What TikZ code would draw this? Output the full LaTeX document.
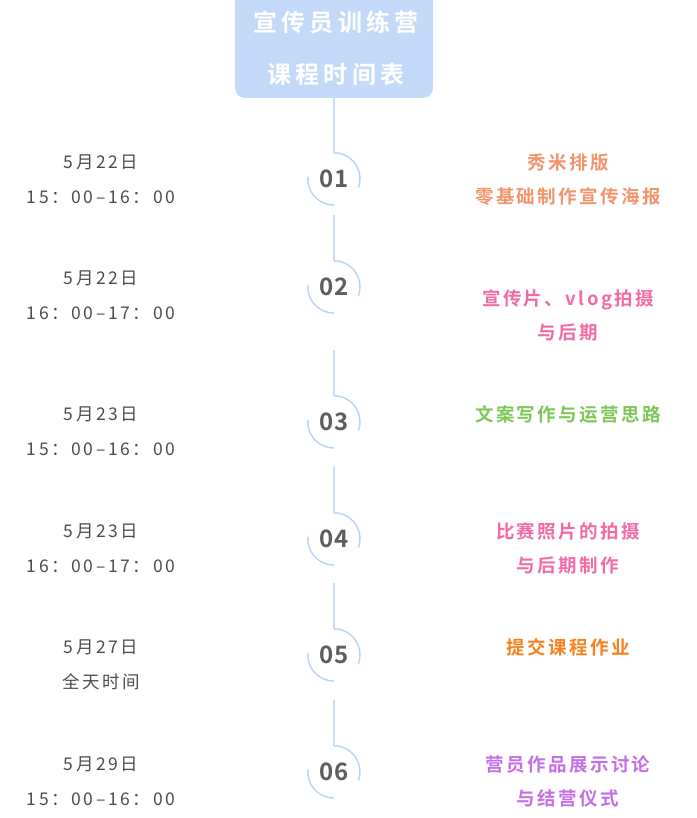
\documentclass[tikz,border=0pt]{standalone}
\usepackage{fontspec}
\setmainfont{Noto Sans CJK SC}[BoldFont={Noto Sans CJK SC Bold}]
\newfontfamily\datefont[LetterSpace=15]{Noto Sans CJK SC}
\newfontfamily\topicfont[LetterSpace=13,BoldFont={Noto Sans CJK SC Bold}]{Noto Sans CJK SC}
\newfontfamily\titlefont[LetterSpace=17,BoldFont={Noto Sans CJK SC Bold}]{Noto Sans CJK SC}
\definecolor{campbox}{HTML}{C3DAF9}
\definecolor{stemline}{HTML}{C8DCF6}
\definecolor{ringline}{HTML}{B9D3F6}
\definecolor{numgray}{HTML}{5E5E5E}
\definecolor{dategray}{HTML}{4D4D4D}
\definecolor{topicA}{HTML}{F2956C}
\definecolor{topicB}{HTML}{F36BA5}
\definecolor{topicC}{HTML}{7DC757}
\definecolor{topicD}{HTML}{F7801F}
\definecolor{topicE}{HTML}{C46FE8}

\begin{document}
\begin{tikzpicture}[x=1pt, y=1pt,
    stem/.style={draw=stemline, line width=1.4pt},
    ring/.style={draw=ringline, line width=1.4pt},
    stepnum/.style={circle, minimum size=52pt, inner sep=0pt, text=numgray,
                    font=\fontsize{24}{24}\selectfont\bfseries},
    datetext/.style={align=center, text=dategray, font=\datefont\fontsize{17.5}{35}\selectfont},
    topictext/.style={align=center, font=\topicfont\fontsize{18.5}{34}\selectfont\bfseries}]
  \useasboundingbox (0,0) rectangle (696,818);

  % title box, cut by the top edge
  \node[fill=campbox, rounded corners=10pt, minimum width=198pt, minimum height=108pt,
        inner sep=0pt, align=center, text=white,
        font=\titlefont\fontsize{24}{52}\selectfont\bfseries]
    (title) at (334,774) {};
  \node[align=center, text=white, font=\titlefont\fontsize{24}{52}\selectfont\bfseries]
    (titletext) at (336,770) {宣传员训练营\\课程时间表};

  % numbered steps with their two arcs
  \foreach \i/\y in {1/639,2/531,3/396,4/279,5/163,6/46} {
    \node[stepnum] (n\i) at (334,\y) {0\i};
    \draw[ring] (n\i.north) arc[start angle=90, end angle=-20, radius=26pt];
    \draw[ring] (n\i.175) arc[start angle=175, end angle=270, radius=26pt];
  }

  % stems
  \draw[stem] (title.south) -- (n1.north);
  \foreach \i in {2,...,6} {
    \coordinate (s\i) at ([yshift=46pt]n\i.north);
    \draw[stem] (s\i) -- (n\i.north);
  }

  % dates
  \node[datetext] (d1) at (101,638.5) {5月22日\\15：00–16：00};
  \node[datetext] (d2) at (101,522.5) {5月22日\\16：00–17：00};
  \node[datetext] (d3) at (101,386.5) {5月23日\\15：00–16：00};
  \node[datetext] (d4) at (101,269.5) {5月23日\\16：00–17：00};
  \node[datetext] (d5) at (101,153)   {5月27日\\全天时间};
  \node[datetext] (d6) at (101,37)    {5月29日\\15：00–16：00};

  % topics
  \node[topictext, text=topicA] (t1) at (568,638.5) {秀米排版\\零基础制作宣传海报};
  \node[topictext, text=topicB] (t2) at (568,503)   {宣传片、vlog拍摄\\与后期};
  \node[topictext, text=topicC] (t3) at (568,404)   {文案写作与运营思路};
  \node[topictext, text=topicB] (t4) at (568,269.5) {比赛照片的拍摄\\与后期制作};
  \node[topictext, text=topicD] (t5) at (568,171)   {提交课程作业};
  \node[topictext, text=topicE] (t6) at (568,37)    {营员作品展示讨论\\与结营仪式};
\end{tikzpicture}
\end{document}
